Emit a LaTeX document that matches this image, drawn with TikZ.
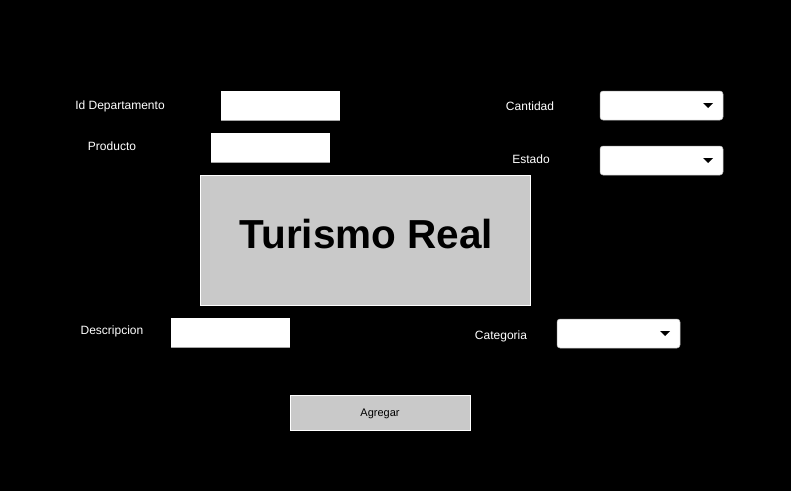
\documentclass[tikz,border=0pt]{standalone}
\usepackage{fontspec}
\setmainfont{Liberation Sans}
\begin{document}
\begin{tikzpicture}[x=1pt,y=-1pt,
  lbl/.style={text=white,font=\fontsize{12}{14}\selectfont,inner sep=0pt},
  field/.style={fill=white,draw=none},
  combo/.style={fill=white,draw=gray!60,rounded corners=3pt,line width=0.5pt},
  graybox/.style={fill=black!21,draw=white,line width=0.8pt}]
\fill[black] (0,0) rectangle (791,491);
\useasboundingbox (0,0) rectangle (791,491);
% text fields
\newcommand{\txtfield}[5]{%
  \fill[white] (#2,#3) rectangle (#4,#5);
  \draw[gray!70,line width=0.8pt] (#2,#5) -- (#4,#5);
  \coordinate (#1) at ({(#2+#4)/2},{(#3+#5)/2});}
\txtfield{fid}{221}{91}{340}{120}
\txtfield{fprod}{211}{133}{330}{162}
\txtfield{fdesc}{171}{318}{290}{347}
% labels
\node[lbl] (lid) at (120,106) {Id Departamento};
\node[lbl] (lprod) at (112,146) {Producto};
\node[lbl] (ldesc) at (112,331) {Descripcion};
\node[lbl] (lcant) at (530,106) {Cantidad};
\node[lbl] (lest) at (531,159) {Estado};
\node[lbl] (lcat) at (501,336) {Categoria};
% combos
\newcommand{\combobox}[5]{%
  \draw[combo] (#2,#3) rectangle (#4,#5);
  \fill[black] ({#4-20},{(#3+#5)/2-2.5}) -- ({#4-10},{(#3+#5)/2-2.5}) -- ({#4-15},{(#3+#5)/2+2.5}) -- cycle;
  \coordinate (#1) at ({(#2+#4)/2},{(#3+#5)/2});}
\combobox{ccant}{600}{91}{723}{120}
\combobox{cest}{600}{146}{723}{175}
\combobox{ccat}{557}{319}{680}{348}
% main box
\draw[graybox] (200,175) rectangle (530,305);
\node[font=\bfseries\fontsize{40.5}{46}\selectfont,inner sep=0pt] (title) at (366.5,234) {Turismo Real};
% button
\draw[graybox] (290,395) rectangle (470,430);
\node[font=\fontsize{11}{13}\selectfont,inner sep=0pt] (btn) at (380,413.5) {Agregar};
\end{tikzpicture}
\end{document}
